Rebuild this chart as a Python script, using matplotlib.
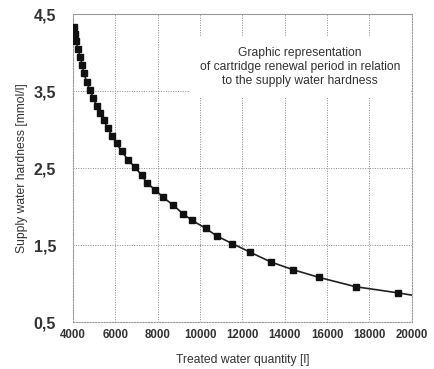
import matplotlib
matplotlib.use("Agg")
import matplotlib.pyplot as plt

# ---- data ----
quantity = [4030, 4080, 4140, 4236, 4345, 4440, 4520, 4650, 4800, 4960,
            5120, 5280, 5450, 5640, 5840, 6060, 6300, 6590, 6930, 7240,
            7480, 7870, 8260, 8730, 9180, 9630, 10260, 10780, 11520, 12350,
            13350, 14400, 15630, 17340, 19350]
hardness = [4.33, 4.24, 4.15, 4.05, 3.94, 3.84, 3.73, 3.62, 3.51, 3.41,
            3.31, 3.22, 3.12, 3.02, 2.92, 2.82, 2.72, 2.61, 2.51, 2.41,
            2.31, 2.22, 2.12, 2.02, 1.91, 1.82, 1.72, 1.62, 1.52, 1.41,
            1.28, 1.18, 1.08, 0.96, 0.88]
# curve continues past the last marker to the right edge
line_end_q, line_end_h = 20000, 0.85

xticks = [4000, 6000, 8000, 10000, 12000, 14000, 16000, 18000, 20000]
yticks = [0.5, 1.5, 2.5, 3.5, 4.5]
ytick_labels = ["0,5", "1,5", "2,5", "3,5", "4,5"]

plt.rcParams["font.family"] = ["Liberation Sans", "DejaVu Sans"]

fig = plt.figure(figsize=(4.34, 3.69), dpi=100)
ax = fig.add_axes([0.168, 0.127, 0.781, 0.835])

ax.plot(quantity + [line_end_q], hardness + [line_end_h],
        color="#222222", lw=1.2, zorder=3)
ax.plot(quantity, hardness, ls="none", marker="s", ms=3.7,
        color="#111111", zorder=4)

ax.set_xlim(4000, 20000)
ax.set_ylim(0.5, 4.5)
ax.set_xticks(xticks)
ax.set_yticks(yticks)
ax.set_yticklabels(ytick_labels)
ax.tick_params(length=0)
ax.tick_params(axis="x", pad=5, labelsize=8.3, labelcolor="#333333")
ax.tick_params(axis="y", pad=12, labelsize=11.5, labelcolor="#333333")
for lab in ax.get_xticklabels() + ax.get_yticklabels():
    lab.set_fontweight("bold")

ax.grid(True, ls=(0, (1, 1.5)), color="#888888", lw=0.7, zorder=1)
for side, sp in ax.spines.items():
    sp.set_color("#999999")
    sp.set_linewidth(0.8)
    if side != "top":
        sp.set_linestyle((0, (1, 1.5)))

ax.set_xlabel("Treated water quantity [l]", fontsize=8.7, color="#333333",
              labelpad=9)
ax.set_ylabel("Supply water hardness [mmol/l]", fontsize=8.7,
              color="#333333", labelpad=4)

ax.text(0.67, 0.828,
        "Graphic representation\nof cartridge renewal period in relation\n"
        "to the supply water hardness",
        transform=ax.transAxes, ha="center", va="center", fontsize=8.7,
        color="#333333", linespacing=1.25, zorder=5,
        bbox=dict(facecolor="white", edgecolor="none", pad=8))

fig.savefig("out.png", dpi=100, facecolor="white")
